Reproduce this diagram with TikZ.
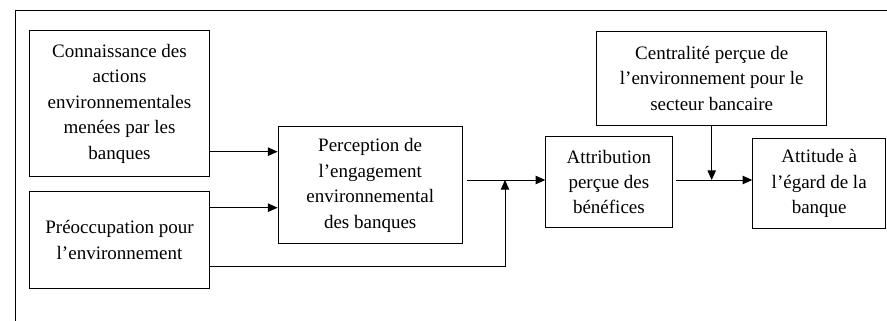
\documentclass[tikz,border=0pt]{standalone}
\usepackage{fontspec}
\setmainfont{Liberation Serif}
\usetikzlibrary{arrows.meta}
\newcommand\boxfont{\fontsize{19}{25.5}\selectfont}
\tikzset{
  box/.style={draw,line width=1pt,align=center,inner sep=0pt,font=\boxfont},
  arr/.style={line width=1pt,-{Triangle[length=9.7pt,width=8.5pt]}}
}
\begin{document}
\begin{tikzpicture}[x=1pt,y=-1pt]
        \useasboundingbox (0,0) rectangle (887,321);
        \draw[line width=1pt] (15,321) -- (15,10.7) -- (887,10.7);
        \node[box,minimum width=180pt,minimum height=145.5pt] (know) at (119.5,103.75) {Connaissance des\\actions\\environnementales\\menées par les\\banques};
        \node[box,minimum width=180pt,minimum height=97.5pt] (concern) at (119.5,239.75) {Préoccupation pour\\l’environnement};
        \node[box,minimum width=184.3pt,minimum height=116.7pt] (percep) at (370.2,185.3) {Perception de\\l’engagement\\environnemental\\des banques};
        \node[box,minimum width=126.3pt,minimum height=90.6pt] (attrib) at (608.9,182) {Attribution\\perçue des\\bénéfices};
        \node[box,minimum width=230pt,minimum height=94.3pt] (central) at (711.7,78.2) {Centralité perçue de\\l’environnement pour le\\secteur bancaire};
        \node[box,minimum width=133pt,minimum height=89.6pt] (attit) at (819.2,183.5) {Attitude à\\l’égard de la\\banque};
        \coordinate (j1) at (505,180);
        \coordinate (j2) at (central.south |- j1);
        \draw[arr] (know.east |- 0,151.7) -- (percep.west |- 0,151.7);
        \draw[arr] (concern.east |- 0,207.7) -- (percep.west |- 0,207.7);
        \draw[arr] (concern.east |- 0,266.7) -| (j1);
        \draw[arr] ([xshift=3.7pt]percep.east |- j1) -- (attrib.west |- j1);
        \draw[arr] ([xshift=3.7pt]attrib.east |- j2) -- (attit.west |- j2);
        \draw[arr] (central.south) -- (j2);
\end{tikzpicture}
\end{document}
